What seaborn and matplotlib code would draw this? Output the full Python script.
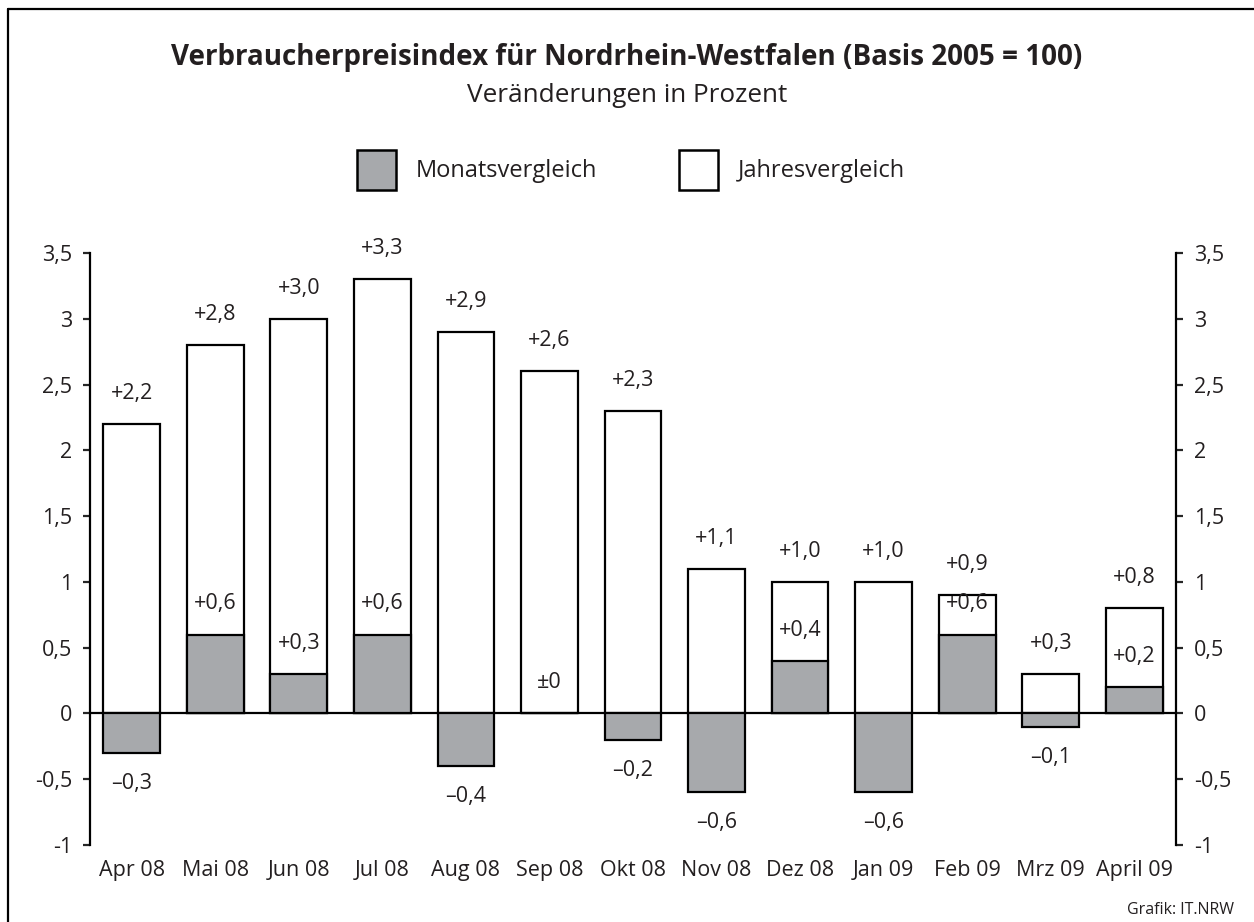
import matplotlib.pyplot as plt
import matplotlib.lines as mlines
import matplotlib.patches as mpatches
import seaborn as sns
import pandas as pd

#----------------------------------------------------
l_month=['Apr 08', 'Mai 08', 'Jun 08', 'Jul 08', 'Aug 08', 'Sep 08', 'Okt 08',
	'Nov 08', 'Dez 08', 'Jan 09', 'Feb 09', 'Mrz 09', 'April 09']
l_year=[2.2, 2.8, 3.0, 3.3, 2.9, 2.6, 2.3, 1.1, 1.0, 1.0, 0.9, 0.3, 0.8]
l_mon=[-0.3, 0.6, 0.3, 0.6, -0.4, 0.0, -0.2, -0.6, 0.4, -0.6, 0.6, -0.1, 0.2]
l_ytick=[-1, -0.5, 0, 0.5, 1, 1.5, 2, 2.5, 3, 3.5]
l_ytick_lbl=['-1', '-0,5', '0', '0,5', '1', '1,5', '2', '2,5', '3', '3,5']
c_grey='#a7a9ac'

df=pd.DataFrame({'monat': l_month, 'jahr': l_year, 'monatl': l_mon})

#----------------------------------------------------
def fmt(v):
	if v>0: return '+'+f'{v:.1f}'.replace('.', ',')
	if v<0: return '\u2013'+f'{-v:.1f}'.replace('.', ',')
	return '\u00b10'

sns.set_style('white')
plt.rcParams['font.family']=['Open Sans', 'DejaVu Sans']
plt.rcParams['text.color']='#231f20'
fs=15.5

fig=plt.figure(figsize=(12.54, 9.22), dpi=100)
ax=fig.add_axes([90/1254, 77/922, 1086/1254, 592/922])

sns.barplot(data=df, x='monat', y='jahr', color='white', edgecolor='black',
	linewidth=1.6, width=0.68, saturation=1, ax=ax)
sns.barplot(data=df, x='monat', y='monatl', color=c_grey, edgecolor='black',
	linewidth=1.6, width=0.68, saturation=1, ax=ax)
ax.axhline(0, color='black', lw=1.6, zorder=0.5)

#labels
off=22
for i, (vj, vm) in enumerate(zip(l_year, l_mon)):
	ax.annotate(fmt(vj), (i, vj), xytext=(0, off), textcoords='offset points',
		ha='center', va='center', fontsize=fs)
	d=off if vm>=0 else -off
	ax.annotate(fmt(vm), (i, vm), xytext=(0, d), textcoords='offset points',
		ha='center', va='center', fontsize=fs)

#axes
ax.set_xlim(-0.5, len(l_month)-0.5)
ax.set_ylim(-1, 3.5)
ax.set_yticks(l_ytick)
ax.set_yticklabels(l_ytick_lbl)
ax.set_xlabel('')
ax.set_ylabel('')
for s in ['top', 'bottom']:
	ax.spines[s].set_visible(False)
for s in ['left', 'right']:
	ax.spines[s].set_color('black')
	ax.spines[s].set_linewidth(1.6)
ax.tick_params(axis='y', which='both', direction='out', length=5, width=1.6,
	pad=8, labelsize=fs, left=True, right=True, labelleft=True, labelright=True,
	labelcolor='#231f20')
ax.tick_params(axis='x', length=0, pad=11, labelsize=fs, labelcolor='#231f20')

#title
fig.text(0.5, 1-57/922, 'Verbraucherpreisindex für Nordrhein-Westfalen (Basis 2005 = 100)',
	ha='center', va='center', fontsize=20, weight='bold')
fig.text(0.5, 1-95/922, 'Veränderungen in Prozent', ha='center', va='center', fontsize=18.8)

#legend
h=[mpatches.Patch(facecolor=c_grey, edgecolor='black', lw=1.8),
	mpatches.Patch(facecolor='white', edgecolor='black', lw=1.8)]
fig.legend(h, ['Monatsvergleich', 'Jahresvergleich'], loc='center', ncol=2,
	bbox_to_anchor=(631/1254, 1-170/922), frameon=False, fontsize=17,
	handlelength=1.65, handleheight=2.23, handletextpad=0.85, columnspacing=3.47)

fig.text(1234/1254, 1-910/922, 'Grafik: IT.NRW', ha='right', va='center', fontsize=11.5)

#frame
fig.add_artist(mlines.Line2D([8/1254, 1], [1-9/922, 1-9/922], color='black', lw=1.6))
fig.add_artist(mlines.Line2D([8/1254, 8/1254], [0, 1-9/922], color='black', lw=1.6))

fig.savefig('out.png', dpi=100)
plt.close()
